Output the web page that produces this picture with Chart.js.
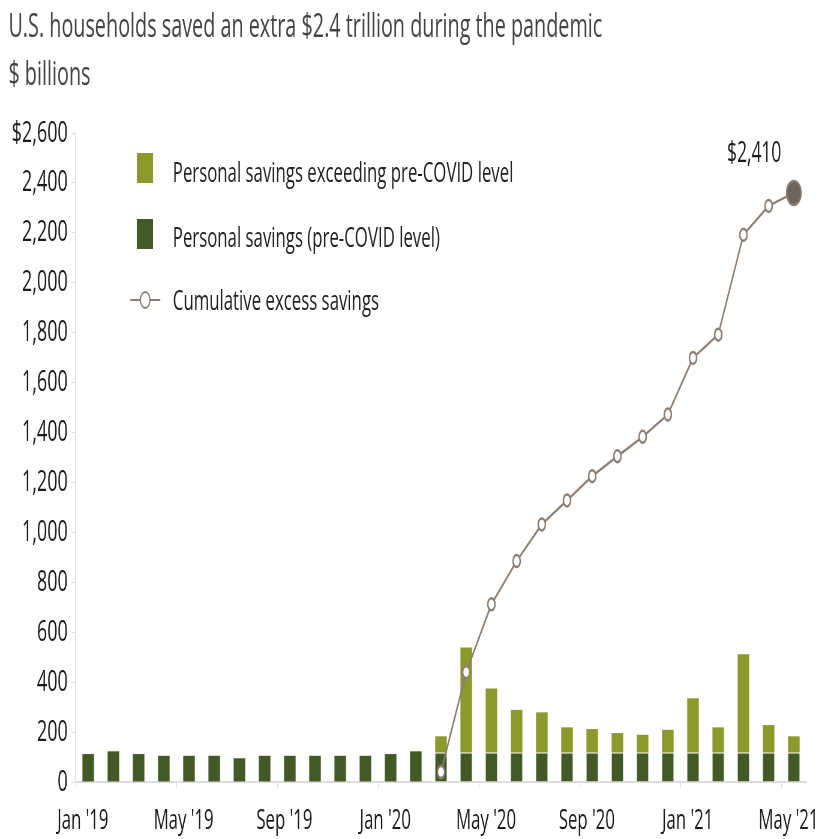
<!DOCTYPE html>
<html>
<head>
<meta charset="utf-8">
<script src="https://cdn.jsdelivr.net/npm/chart.js@4.4.0/dist/chart.umd.min.js"></script>
<style>
  html, body { margin: 0; padding: 0; background: #fff; overflow: hidden; }
  /* the reference is squeezed horizontally, so draw wide and squeeze */
  #page { position: absolute; left: 0; top: 0; width: 1368px; height: 839px;
          transform: scaleX(0.6); transform-origin: 0 0;
          font-family: 'Open Sans', sans-serif; color: #222; }
  #chart { position: absolute; left: 0; top: 0; }
  .txt { position: absolute; white-space: nowrap; font-size: 28px; line-height: 28px; }
  .title { left: 14px; top: 8px; font-size: 33px; line-height: 33px; color: #444; }
  .sub { left: 14px; top: 56px; font-size: 33px; line-height: 33px; color: #444; }
  .sq { position: absolute; left: 228px; width: 27px; height: 30px; }
  .lg-line { position: absolute; left: 217px; top: 299px; width: 50px; height: 2px; background: #8a7d74; }
  .lg-dot { position: absolute; left: 233px; top: 291px; width: 14px; height: 14px;
            border: 2px solid #8a7d74; border-radius: 50%; background: #fff; }
</style>
</head>
<body>
<div id="page">
  <canvas id="chart" width="1368" height="839"></canvas>
  <div class="txt title">U.S. households saved an extra $2.4 trillion during the pandemic</div>
  <div class="txt sub">$ billions</div>

  <div class="sq" style="top:153px; background:#8c9a2c;"></div>
  <div class="txt" style="left:288px; top:157px;">Personal savings exceeding pre-COVID level</div>
  <div class="sq" style="top:219px; background:#435a26;"></div>
  <div class="txt" style="left:288px; top:222px;">Personal savings (pre-COVID level)</div>
  <div class="lg-line"></div>
  <div class="lg-dot"></div>
  <div class="txt" style="left:288px; top:285px;">Cumulative excess savings</div>
</div>

<script>
// Months, Jan 2019 - May 2021
const months = [
    "Jan '19", "Feb '19", "Mar '19", "Apr '19", "May '19", "Jun '19",
    "Jul '19", "Aug '19", "Sep '19", "Oct '19", "Nov '19", "Dec '19",
    "Jan '20", "Feb '20", "Mar '20", "Apr '20", "May '20", "Jun '20",
    "Jul '20", "Aug '20", "Sep '20", "Oct '20", "Nov '20", "Dec '20",
    "Jan '21", "Feb '21", "Mar '21", "Apr '21", "May '21"
];

// Personal savings up to the pre-COVID level ($ billions)
const preCovidSavings = [
    112, 123, 112, 105, 105, 105, 95, 105, 105, 105, 105, 105,
    112, 123, 118, 118, 118, 118, 118, 118, 118, 118, 118, 118,
    118, 118, 118, 118, 118
];

// Savings above the pre-COVID level
const excessSavings = [
    null, null, null, null, null, null, null, null, null, null, null, null,
    null, null, 65, 421, 257, 171, 161, 101, 94, 78, 71, 91,
    218, 101, 394, 110, 65
];

// Running total of excess savings
const cumulativeExcess = [
    null, null, null, null, null, null, null, null, null, null, null, null,
    null, null, 40, 440, 712, 885, 1032, 1128, 1225, 1305, 1383, 1472,
    1699, 1792, 2192, 2308, 2360
];

const yTickValues = [0, 200, 400, 600, 800, 1000, 1200, 1400, 1600, 1800, 2000, 2200, 2400, 2600];
const lastLabel = '$2,410';

const lineColor = '#8a7d74';
const lastIndex = cumulativeExcess.length - 1;
const tickFont = { family: "'Open Sans', sans-serif", size: 30 };

// Label next to the final point
const endLabel = {
    id: 'endLabel',
    afterDatasetsDraw(chart) {
        const meta = chart.getDatasetMeta(2);
        const pt = meta.data[lastIndex];
        const ctx = chart.ctx;
        ctx.save();
        ctx.font = "29px 'Open Sans', sans-serif";
        ctx.fillStyle = '#1a1a1a';
        ctx.textAlign = 'center';
        ctx.textBaseline = 'alphabetic';
        ctx.fillText(lastLabel, pt.x - 66, pt.y - 31);
        ctx.restore();
    }
};

const ctx = document.getElementById('chart').getContext('2d');
new Chart(ctx, {
    type: 'bar',
    data: {
        labels: months,
        datasets: [
            {
                label: 'Personal savings (pre-COVID level)',
                data: preCovidSavings,
                backgroundColor: '#435a26',
                borderColor: 'rgba(255,255,255,0.35)',
                borderWidth: c => c.dataIndex >= 14 ? { top: 1, left: 0, right: 0, bottom: 0 } : 0,
                borderSkipped: false,
                stack: 'bars',
                order: 1,
                categoryPercentage: 1,
                barPercentage: 0.46
            },
            {
                label: 'Personal savings exceeding pre-COVID level',
                data: excessSavings,
                backgroundColor: '#8c9a2c',
                borderWidth: 0,
                stack: 'bars',
                order: 1,
                categoryPercentage: 1,
                barPercentage: 0.46
            },
            {
                type: 'line',
                label: 'Cumulative excess savings',
                data: cumulativeExcess,
                borderColor: lineColor,
                borderWidth: 2.5,
                pointRadius: c => c.dataIndex === lastIndex ? 12 : 6,
                pointBorderWidth: 2.5,
                pointBorderColor: lineColor,
                pointBackgroundColor: c => c.dataIndex === lastIndex ? '#6f645c' : '#fff',
                tension: 0,
                stack: 'line',
                order: 0
            }
        ]
    },
    plugins: [endLabel],
    options: {
        responsive: false,
        animation: false,
        layout: { padding: { top: 133, right: 24, bottom: 0, left: 0 } },
        plugins: {
            legend: { display: false },
            tooltip: { enabled: false }
        },
        scales: {
            x: {
                stacked: true,
                afterFit: s => { s.height = 57; s.paddingLeft = 0; s.paddingRight = 0; },
                grid: {
                    offset: true,
                    drawOnChartArea: false,
                    tickLength: 6,
                    color: c => c.index % 4 === 0 ? '#d8d8d8' : 'rgba(0,0,0,0)'
                },
                border: { color: '#dddddd', width: 2 },
                ticks: {
                    autoSkip: false,
                    maxRotation: 0,
                    padding: 16,
                    labelOffset: -9,
                    color: '#1a1a1a',
                    font: { family: "'Open Sans', sans-serif", size: 28 },
                    callback: (v, i) => i % 4 === 0 ? months[i] : ''
                }
            },
            y: {
                stacked: true,
                min: 0,
                max: 2600,
                afterFit: s => { s.width = 126; },
                afterBuildTicks: s => { s.ticks = yTickValues.map(v => ({ value: v })); },
                grid: { drawOnChartArea: false, tickLength: 7, color: '#dddddd' },
                border: { color: '#e2e2e2', width: 2 },
                ticks: {
                    padding: 6,
                    color: '#1a1a1a',
                    font: tickFont,
                    callback: v => v === 2600 ? '$2,600' : v.toLocaleString('en-US')
                }
            }
        }
    }
});
</script>
</body>
</html>
